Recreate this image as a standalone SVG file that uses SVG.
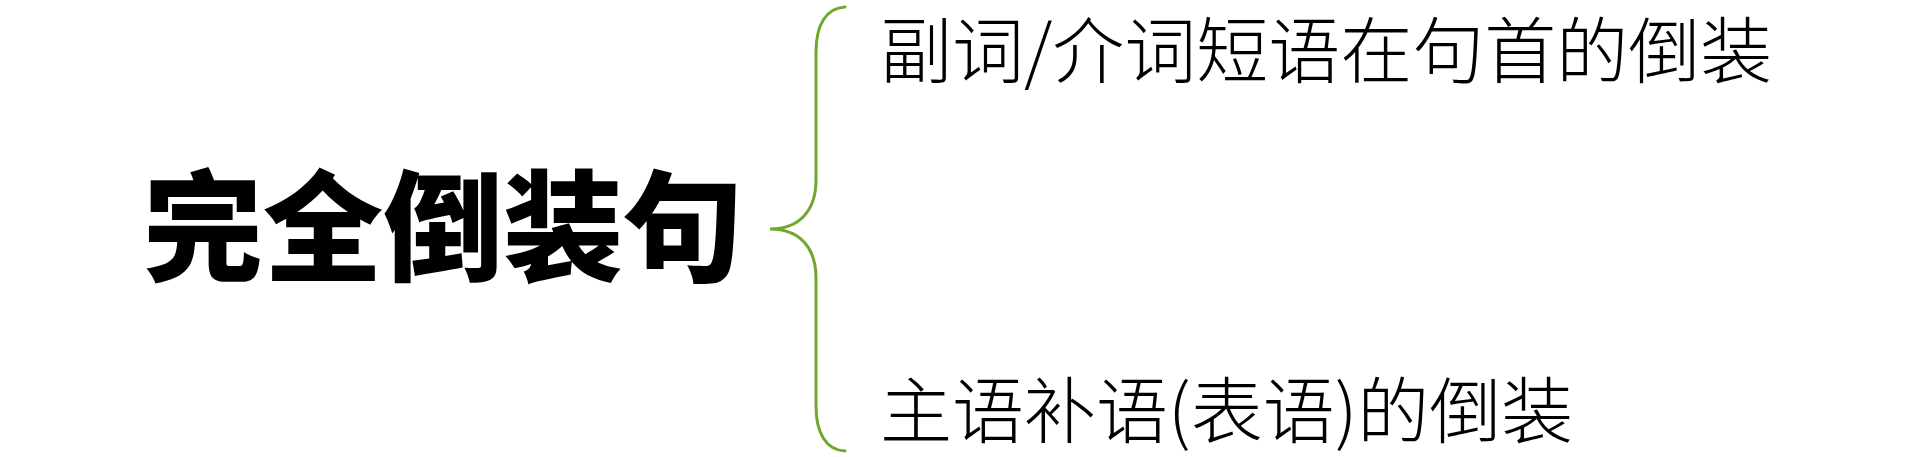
<svg xmlns="http://www.w3.org/2000/svg" width="1920" height="457" viewBox="0 0 1920 457">
<style>
.title{font-family:"Noto Sans CJK SC","Noto Sans CJK TC",sans-serif;font-weight:900;font-size:120px;fill:#000}
.item{font-family:"Noto Sans CJK SC","Noto Sans CJK TC",sans-serif;font-weight:300;font-size:72px;fill:#000}
.brace{fill:none;stroke:#71A72F;stroke-width:3;stroke-linecap:round}
</style>
<rect width="1920" height="457" fill="#fff"/>
<g id="root"><text class="title" x="143" y="272">完全倒装句</text></g>
<g id="connectors">
<path class="brace" d="M845,7 C826,8 816,25 816,52 L816,180 C816,210 800,229 770,229 C800,229 816,248 816,278 L816,406 C816,433 826,450 845,451"/>
</g>
<g id="item1"><text class="item" x="880" y="77">副词/介词短语在句首的倒装</text></g>
<g id="item2"><text class="item" x="880" y="437">主语补语(表语)的倒装</text></g>
</svg>
